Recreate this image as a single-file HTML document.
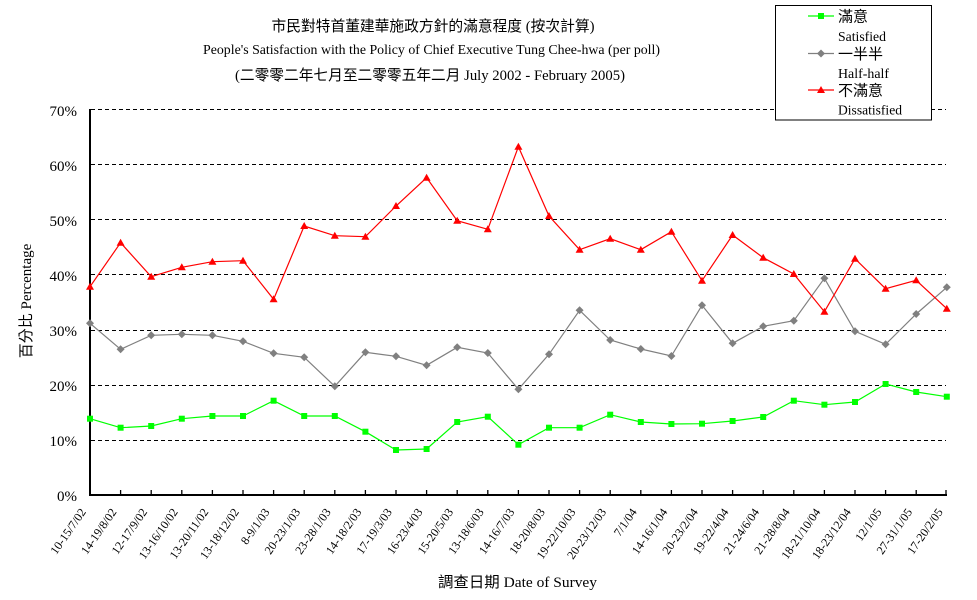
<!DOCTYPE html>
<html>
<head>
<meta charset="utf-8">
<style>
html,body{margin:0;padding:0;background:#fff;}
svg{display:block;}
text{font-family:"Liberation Serif","Noto Sans CJK TC","Noto Sans CJK SC",serif;fill:#000;}
</style>
</head>
<body>
<svg width="977" height="600" viewBox="0 0 977 600" xmlns="http://www.w3.org/2000/svg">
<defs>
  <marker id="sq" markerWidth="8" markerHeight="8" refX="4" refY="4" markerUnits="userSpaceOnUse">
    <rect x="1" y="1" width="6" height="6" fill="#00ff00"/>
  </marker>
  <marker id="dm" markerWidth="9" markerHeight="9" refX="4.5" refY="4.5" markerUnits="userSpaceOnUse">
    <polygon points="4.5,0.5 8.5,4.5 4.5,8.5 0.5,4.5" fill="#808080"/>
  </marker>
  <marker id="tr" markerWidth="10" markerHeight="9" refX="5" refY="5" markerUnits="userSpaceOnUse">
    <polygon points="5,1 9,8 1,8" fill="#ff0000"/>
  </marker>
</defs>

<!-- Title -->
<text x="433" y="31" font-size="15" text-anchor="middle" textLength="323" lengthAdjust="spacingAndGlyphs">市民對特首董建華施政方針的滿意程度 (按次計算)</text>
<text x="431.5" y="54" font-size="14" text-anchor="middle" textLength="457" lengthAdjust="spacingAndGlyphs">People's Satisfaction with the Policy of Chief Executive Tung Chee-hwa (per poll)</text>
<text x="430" y="80" font-size="15" text-anchor="middle" textLength="390" lengthAdjust="spacingAndGlyphs">(二零零二年七月至二零零五年二月 July 2002 -  February 2005)</text>

<!-- Gridlines -->
<g stroke="#000" stroke-width="1" stroke-dasharray="4,3">
  <line x1="91" y1="109.5" x2="946" y2="109.5"/>
  <line x1="91" y1="164.5" x2="946" y2="164.5"/>
  <line x1="91" y1="219.5" x2="946" y2="219.5"/>
  <line x1="91" y1="274.5" x2="946" y2="274.5"/>
  <line x1="91" y1="330.5" x2="946" y2="330.5"/>
  <line x1="91" y1="385.5" x2="946" y2="385.5"/>
  <line x1="91" y1="440.5" x2="946" y2="440.5"/>
</g>

<!-- Y labels -->
<g font-size="15" text-anchor="end">
  <text x="77" y="116">70%</text>
  <text x="77" y="171">60%</text>
  <text x="77" y="226">50%</text>
  <text x="77" y="281">40%</text>
  <text x="77" y="336">30%</text>
  <text x="77" y="391">20%</text>
  <text x="77" y="446">10%</text>
  <text x="77" y="501">0%</text>
</g>
<text transform="translate(31,301) rotate(-90)" font-size="15" text-anchor="middle">百分比 Percentage</text>

<!-- Axes -->
<line x1="90" y1="109" x2="90" y2="496" stroke="#000" stroke-width="2"/>
<line x1="89" y1="495" x2="947" y2="495" stroke="#000" stroke-width="2"/>
<g stroke="#000" stroke-width="1.3">
  <line x1="120.6" y1="490" x2="120.6" y2="495"/>
  <line x1="151.2" y1="490" x2="151.2" y2="495"/>
  <line x1="181.8" y1="490" x2="181.8" y2="495"/>
  <line x1="212.4" y1="490" x2="212.4" y2="495"/>
  <line x1="243" y1="490" x2="243" y2="495"/>
  <line x1="273.6" y1="490" x2="273.6" y2="495"/>
  <line x1="304.2" y1="490" x2="304.2" y2="495"/>
  <line x1="334.8" y1="490" x2="334.8" y2="495"/>
  <line x1="365.4" y1="490" x2="365.4" y2="495"/>
  <line x1="396" y1="490" x2="396" y2="495"/>
  <line x1="426.6" y1="490" x2="426.6" y2="495"/>
  <line x1="457.2" y1="490" x2="457.2" y2="495"/>
  <line x1="487.8" y1="490" x2="487.8" y2="495"/>
  <line x1="518.4" y1="490" x2="518.4" y2="495"/>
  <line x1="549" y1="490" x2="549" y2="495"/>
  <line x1="579.6" y1="490" x2="579.6" y2="495"/>
  <line x1="610.2" y1="490" x2="610.2" y2="495"/>
  <line x1="640.8" y1="490" x2="640.8" y2="495"/>
  <line x1="671.4" y1="490" x2="671.4" y2="495"/>
  <line x1="702" y1="490" x2="702" y2="495"/>
  <line x1="732.6" y1="490" x2="732.6" y2="495"/>
  <line x1="763.2" y1="490" x2="763.2" y2="495"/>
  <line x1="793.8" y1="490" x2="793.8" y2="495"/>
  <line x1="824.4" y1="490" x2="824.4" y2="495"/>
  <line x1="855" y1="490" x2="855" y2="495"/>
  <line x1="885.6" y1="490" x2="885.6" y2="495"/>
  <line x1="916.2" y1="490" x2="916.2" y2="495"/>
  <line x1="946" y1="490" x2="946" y2="495"/>
</g>

<!-- X labels -->
<g font-size="12" text-anchor="end">
  <text transform="translate(86.5,512) rotate(-55)">10-15/7/02</text>
  <text transform="translate(117.1,512) rotate(-55)">14-19/8/02</text>
  <text transform="translate(147.7,512) rotate(-55)">12-17/9/02</text>
  <text transform="translate(178.3,512) rotate(-55)">13-16/10/02</text>
  <text transform="translate(208.9,512) rotate(-55)">13-20/11/02</text>
  <text transform="translate(239.5,512) rotate(-55)">13-18/12/02</text>
  <text transform="translate(270.1,512) rotate(-55)">8-9/1/03</text>
  <text transform="translate(300.7,512) rotate(-55)">20-23/1/03</text>
  <text transform="translate(331.3,512) rotate(-55)">23-28/1/03</text>
  <text transform="translate(361.9,512) rotate(-55)">14-18/2/03</text>
  <text transform="translate(392.5,512) rotate(-55)">17-19/3/03</text>
  <text transform="translate(423.1,512) rotate(-55)">16-23/4/03</text>
  <text transform="translate(453.7,512) rotate(-55)">15-20/5/03</text>
  <text transform="translate(484.3,512) rotate(-55)">13-18/6/03</text>
  <text transform="translate(514.9,512) rotate(-55)">14-16/7/03</text>
  <text transform="translate(545.5,512) rotate(-55)">18-20/8/03</text>
  <text transform="translate(576.1,512) rotate(-55)">19-22/10/03</text>
  <text transform="translate(606.7,512) rotate(-55)">20-23/12/03</text>
  <text transform="translate(637.3,512) rotate(-55)">7/1/04</text>
  <text transform="translate(667.9,512) rotate(-55)">14-16/1/04</text>
  <text transform="translate(698.5,512) rotate(-55)">20-23/2/04</text>
  <text transform="translate(729.1,512) rotate(-55)">19-22/4/04</text>
  <text transform="translate(759.7,512) rotate(-55)">21-24/6/04</text>
  <text transform="translate(790.3,512) rotate(-55)">21-28/8/04</text>
  <text transform="translate(820.9,512) rotate(-55)">18-21/10/04</text>
  <text transform="translate(851.5,512) rotate(-55)">18-23/12/04</text>
  <text transform="translate(882.1,512) rotate(-55)">12/1/05</text>
  <text transform="translate(912.7,512) rotate(-55)">27-31/1/05</text>
  <text transform="translate(943.3,512) rotate(-55)">17-20/2/05</text>
</g>
<text x="438" y="587" font-size="15" textLength="159" lengthAdjust="spacingAndGlyphs">調查日期 Date of Survey</text>

<!-- Series -->
<polyline fill="none" stroke="#00ff00" stroke-width="1.2" marker-start="url(#sq)" marker-mid="url(#sq)" marker-end="url(#sq)"
 points="90,418.7 120.6,427.7 151.2,426 181.8,418.7 212.4,416 243,416 273.6,400.7 304.2,416 334.8,416 365.4,431.7 396,450 426.6,449 457.2,422 487.8,416.7 518.4,444.7 549,427.7 579.6,427.7 610.2,414.7 640.8,422 671.4,424 702,423.7 732.6,421 763.2,417 793.8,400.7 824.4,404.7 855,402 885.6,384 916.2,392 946.8,396.7"/>
<polyline fill="none" stroke="#808080" stroke-width="1.2" marker-start="url(#dm)" marker-mid="url(#dm)" marker-end="url(#dm)"
 points="90,323.3 120.6,349.3 151.2,335.3 181.8,334.3 212.4,335.3 243,341.3 273.6,353.3 304.2,357.3 334.8,386.3 365.4,352.3 396,356.3 426.6,365.3 457.2,347.3 487.8,353 518.4,389.3 549,354.3 579.6,310.3 610.2,340 640.8,349 671.4,356 702,305.3 732.6,343.3 763.2,326.3 793.8,320.7 824.4,278.3 855,331.3 885.6,344.3 916.2,314 946.8,287.3"/>
<polyline fill="none" stroke="#ff0000" stroke-width="1.2" marker-start="url(#tr)" marker-mid="url(#tr)" marker-end="url(#tr)"
 points="90,286.7 120.6,242.7 151.2,276.7 181.8,267.3 212.4,261.7 243,260.7 273.6,299.3 304.2,226 334.8,235.7 365.4,236.7 396,206 426.6,177.7 457.2,220.7 487.8,229.3 518.4,146.7 549,216 579.6,249.7 610.2,238.7 640.8,249.7 671.4,231.7 702,280.7 732.6,235 763.2,257.7 793.8,274 824.4,311.7 855,258.7 885.6,288.7 916.2,280.3 946.8,308.7"/>

<!-- Legend -->
<rect x="775.5" y="5.5" width="156" height="114.5" fill="#fff" stroke="#000" stroke-width="1"/>
<polyline fill="none" stroke="#00ff00" stroke-width="1.2" marker-mid="url(#sq)" points="808,16 821,16 834,16"/>
<polyline fill="none" stroke="#808080" stroke-width="1.2" marker-mid="url(#dm)" points="808,53.5 821,53.5 834,53.5"/>
<polyline fill="none" stroke="#ff0000" stroke-width="1.2" marker-mid="url(#tr)" points="808,90 821,90 834,90"/>
<g font-size="15">
  <text x="838" y="21.5">滿意</text>
  <text x="838" y="59">一半半</text>
  <text x="838" y="95.5">不滿意</text>
</g>
<g font-size="14">
  <text x="838" y="41" textLength="48" lengthAdjust="spacingAndGlyphs">Satisfied</text>
  <text x="838" y="78" textLength="51" lengthAdjust="spacingAndGlyphs">Half-half</text>
  <text x="838" y="114.5" textLength="64" lengthAdjust="spacingAndGlyphs">Dissatisfied</text>
</g>
</svg>
</body>
</html>
